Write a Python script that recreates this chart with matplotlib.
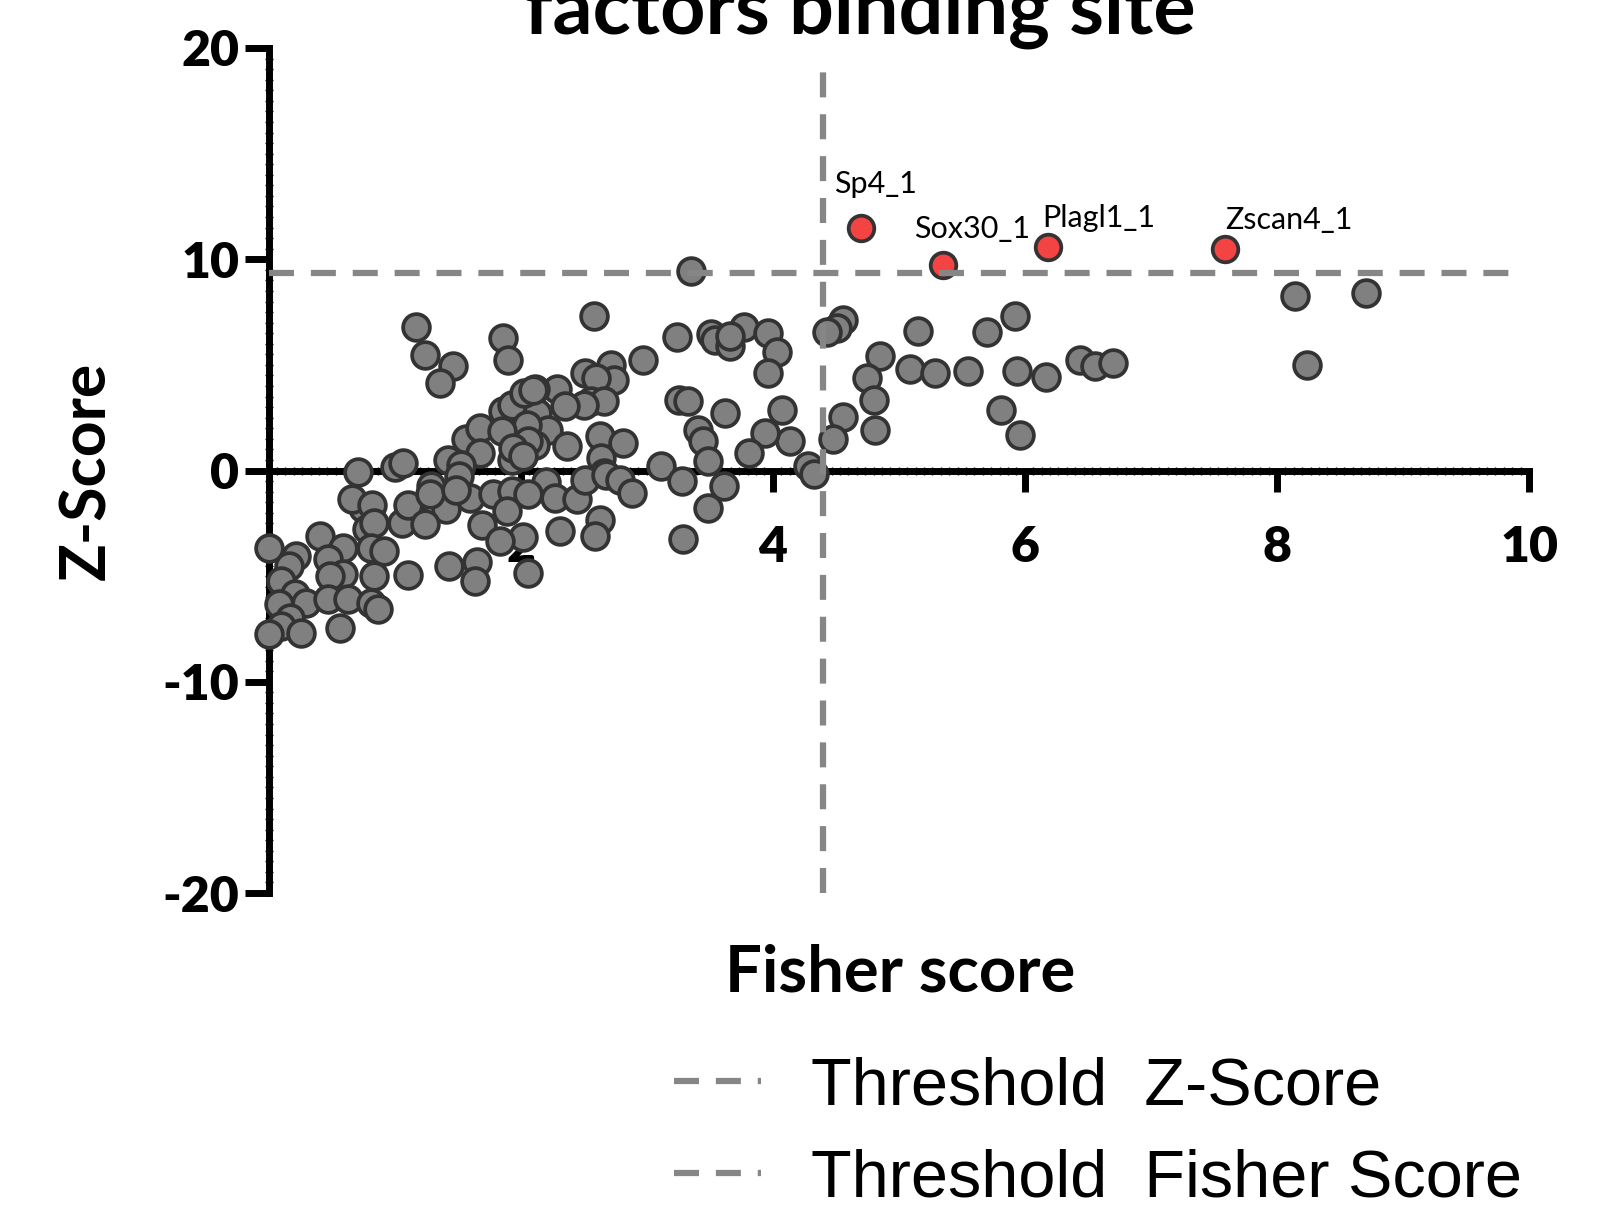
import matplotlib
matplotlib.use("Agg")
import matplotlib.pyplot as plt
from matplotlib.ticker import MultipleLocator

# gray motifs: Fisher score vs Z-score
fisher = [4.56, 4.51, 4.43, 5.15, 5.70, 5.92, 4.85, 4.75, 5.09, 5.29, 5.55, 5.94, 6.17,
          6.44, 6.56, 6.70, 4.80, 4.56, 4.81, 4.48, 5.81, 5.96, 4.28, 4.33, 4.14, 4.07,
          8.14, 8.71, 8.24, 3.35,
          2.58, 3.24, 3.51, 3.54, 3.66, 3.77, 3.66, 3.96, 4.03, 3.96, 2.97, 2.72, 2.51,
          2.74, 2.60, 2.29, 2.11, 2.56, 2.66, 2.50, 2.35, 3.26, 3.33, 3.62, 2.13, 2.22,
          2.63, 2.81, 2.37, 2.11, 3.41, 3.45, 3.49, 3.94, 3.81, 3.11, 2.64, 2.66, 2.20,
          2.27, 2.45, 2.51, 2.68, 2.79, 2.88, 3.28, 3.61, 3.49, 2.63, 2.59, 2.31, 3.29,
          2.06, 2.02,
          1.17, 1.24, 1.46, 1.36, 1.86, 1.90, 0.71, 1.00, 1.07, 1.42, 1.57, 1.68, 1.86,
          1.93, 2.03, 2.10, 2.05, 1.85, 2.06, 1.93, 1.68, 1.53, 1.51, 1.29, 1.94, 2.02,
          1.60, 1.41, 1.16, 0.75,
          0.66, 0.82, 0.78, 0.84, 0.81, 0.92, 1.06, 1.11, 1.24, 1.28, 1.49, 1.78, 1.93,
          2.06, 1.89, 1.69, 1.84, 1.11, 1.43, 1.65, 1.64, 0.84, 0.00, 0.22, 0.41, 0.59,
          0.47, 0.16, 0.10, 0.59, 0.49, 0.21, 0.08, 0.30, 0.47, 0.63, 0.81, 0.87, 0.17,
          0.10, 0.00, 0.26, 0.57]
zscore = [7.14, 6.75, 6.54, 6.62, 6.54, 7.30, 5.44, 4.38, 4.82, 4.62, 4.70, 4.70, 4.41,
          5.22, 4.93, 5.09, 3.32, 2.52, 1.94, 1.47, 2.88, 1.70, 0.22, -0.15, 1.38, 2.86,
          8.24, 8.39, 4.99, 9.45,
          7.30, 6.32, 6.46, 6.19, 5.88, 6.78, 6.35, 6.51, 5.61, 4.62, 5.22, 5.01, 4.62,
          4.30, 4.38, 3.88, 3.88, 3.31, 3.28, 3.12, 3.04, 3.36, 3.28, 2.70, 2.73, 1.94,
          1.62, 1.31, 1.15, 1.23, 1.94, 1.39, 0.44, 1.78, 0.84, 0.20, 0.60, -0.11, -0.56,
          -1.29, -1.37, -0.47, -0.19, -0.43, -1.05, -0.51, -0.71, -1.76, -2.32, -3.11, -2.84, -3.26,
          -4.84, -3.17,
          6.78, 5.45, 4.93, 4.15, 6.27, 5.22, -0.08, 0.16, 0.36, 0.49, 1.47, 2.02, 2.80,
          3.12, 3.67, 3.83, 2.17, 1.86, 1.39, 0.52, 0.84, 0.28, -0.27, -0.74, 1.07, 0.68,
          -1.29, -1.84, -2.24, -1.76,
          -1.34, -1.61, -2.79, -2.47, -3.65, -3.81, -2.47, -1.61, -2.55, -1.13, -0.90, -1.13, -0.98,
          -1.13, -1.92, -2.60, -3.34, -4.96, -4.52, -4.33, -5.23, -5.00, -3.69, -4.05, -3.11, -3.65,
          -4.21, -4.52, -5.23, -4.92, -5.00, -5.86, -6.34, -6.26, -6.07, -6.07, -6.26, -6.57, -6.97,
          -7.36, -7.75, -7.67, -7.44]

# motifs passing both thresholds
hit_names = ["Sp4_1", "Sox30_1", "Plagl1_1", "Zscan4_1"]
hit_fisher = [4.70, 5.35, 6.18, 7.59]
hit_z = [11.50, 9.71, 10.56, 10.47]
label_fisher = [4.49, 5.12, 6.14, 7.59]
label_z = [13.13, 11.00, 11.55, 11.41]

z_threshold = 9.33
fisher_threshold = 4.40

bold_font = "Lato"
fig = plt.figure(figsize=(16.07, 12.06), dpi=100)
ax = fig.add_axes([0.1671, 0.2595, 0.9515 - 0.1671, 0.9602 - 0.2595])

ax.scatter(fisher, zscore, s=370, c="#808080", edgecolors="#333333",
           linewidths=2.7, zorder=3, clip_on=False)
ax.scatter(hit_fisher, hit_z, s=340, c="#f44343", edgecolors="#333333",
           linewidths=2.7, zorder=3, clip_on=False)
for name, lx, lz in zip(hit_names, label_fisher, label_z):
    ax.text(lx, lz, name, fontsize=22, family="Lato", va="baseline", ha="left")

h_line, = ax.plot([0, 9.9], [z_threshold, z_threshold], color="#868686", lw=4.5,
                  dashes=(4, 2.7), zorder=4, solid_capstyle="butt")
v_line, = ax.plot([fisher_threshold, fisher_threshold], [-20, 19.2], color="#868686",
                  lw=4.5, dashes=(4, 2.7), zorder=4)

ax.set_xlim(0, 10)
ax.set_ylim(-20, 20)
for side in ["top", "right"]:
    ax.spines[side].set_visible(False)
ax.spines["bottom"].set_position(("data", 0))
for side in ["left", "bottom"]:
    ax.spines[side].set_linewidth(5)
    ax.spines[side].set_zorder(2)

ax.set_xticks([0, 2, 4, 6, 8, 10], ["", "2", "4", "6", "8", "10"])
ax.set_yticks([-20, -10, 0, 10, 20], ["-20", "-10", "0", "10", "20"])
ax.xaxis.set_minor_locator(MultipleLocator(2 / 30))
ax.yaxis.set_minor_locator(MultipleLocator(0.5))
ax.tick_params(axis="x", which="major", direction="out", length=15, width=5, pad=24)
ax.tick_params(axis="y", which="major", direction="out", length=17, width=5, pad=4)
ax.tick_params(which="minor", direction="inout", length=6, width=1.0)
for lab in ax.get_xticklabels() + ax.get_yticklabels():
    lab.set_fontfamily(bold_font)
    lab.set_fontweight("heavy")
    lab.set_fontsize(36)

fig.text(0.535, 0.972, "factors binding site", ha="center", va="baseline",
         fontsize=57, fontweight="bold", family=bold_font)
fig.text(0.054, 0.6095, "Z-Score", rotation=90, ha="center", va="center",
         fontsize=45, fontweight="bold", family=bold_font)
fig.text(0.560, 0.178, "Fisher score", ha="center", va="baseline",
         fontsize=47, fontweight="bold", family=bold_font)

fig.legend([h_line, v_line], ["Threshold  Z-Score", "Threshold  Fisher Score"],
           loc="upper left", bbox_to_anchor=(0.4194, 0.124), frameon=False,
           prop={"family": "Liberation Sans", "size": 48}, handlelength=1.3,
           handletextpad=0.75, labelspacing=0.45, borderpad=0, borderaxespad=0)

fig.savefig("out.png", dpi=100)
